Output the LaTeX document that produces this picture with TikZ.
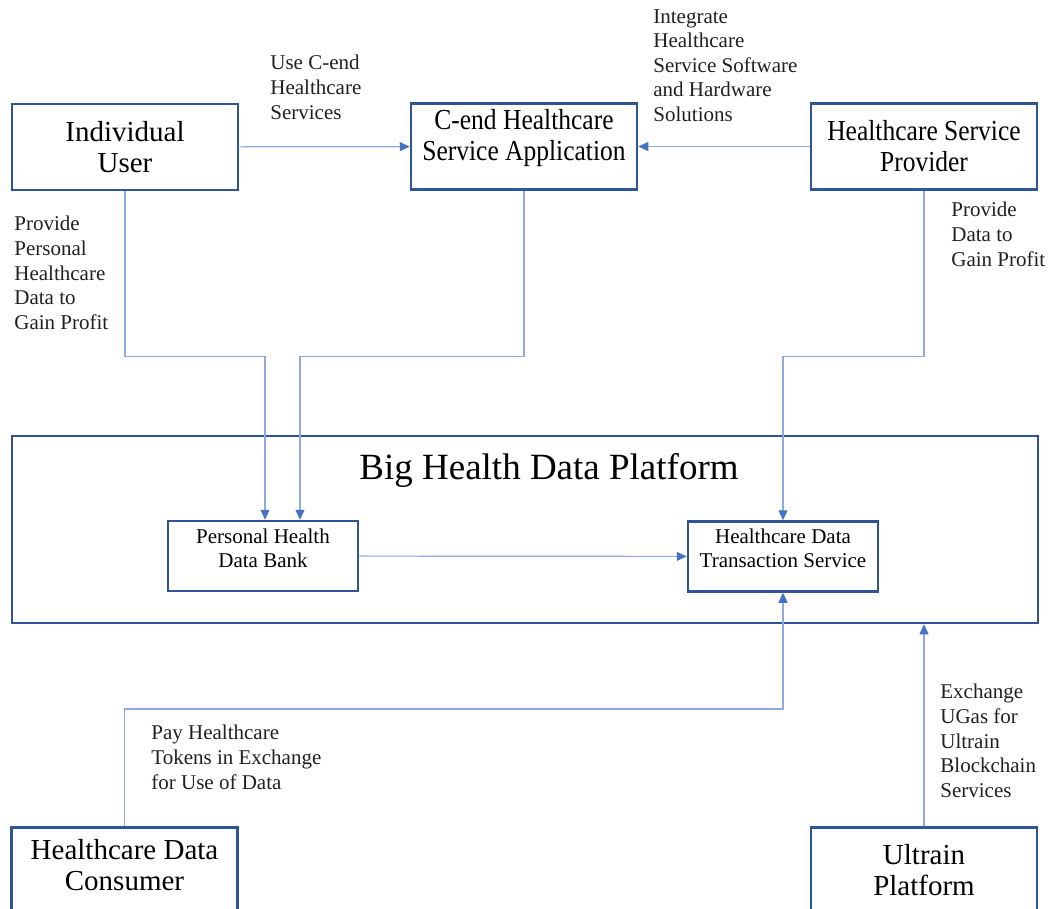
\documentclass[tikz,border=0pt]{standalone}
\usepackage{fontspec}
\setmainfont{Liberation Serif}
\newfontfamily\narrowserif{Liberation Serif}[FakeStretch=0.88]
\usetikzlibrary{arrows.meta}
\definecolor{boxblue}{HTML}{2F5597}
\definecolor{linkblue}{HTML}{8FAADC}
\definecolor{tipblue}{HTML}{4472C4}
\definecolor{notegray}{HTML}{231F20}

\begin{document}
\begin{tikzpicture}[x=0.5pt, y=-0.5pt,
main/.style = {draw=boxblue, line width=1.25pt, align=center, inner sep=0pt, minimum width=113pt, minimum height=43pt, font=\fontsize{14.5}{15.5}\selectfont},
sub/.style = {draw=boxblue, line width=1.25pt, align=center, inner sep=0pt, minimum width=95pt, minimum height=35pt, text depth=8pt, font=\fontsize{10.5}{12}\selectfont},
note/.style = {anchor=north west, align=left, inner sep=0pt, text=notegray, font=\fontsize{10.5}{12.3}\selectfont},
link/.style = {draw=linkblue, line width=0.6pt, -{Triangle[length=5pt, width=4.5pt, color=tipblue]}}]
\useasboundingbox (0,0) rectangle (1050,909);
\clip (0,0) rectangle (1050,909);
\node[main] (user) at (125,147) {Individual\\User};
\node[main, text depth=12pt, font=\narrowserif\fontsize{14.5}{15.5}\selectfont] (app) at (524,146.5) {C-end Healthcare\\Service Application};
\node[main, font=\narrowserif\fontsize{14.5}{15.5}\selectfont] (prov) at (924,146.5) {Healthcare Service\\Provider};
\node[main, minimum width=513pt, minimum height=93.5pt] (platform) at (525,529.5) {};
\node[font=\fontsize{18.5}{21}\selectfont] (title) at (549,470) {Big Health Data Platform};
\node[sub] (bank) at (263,556) {Personal Health\\Data Bank};
\node[sub] (tx) at (783,556.5) {Healthcare Data\\Transaction Service};
\node[main, minimum height=60pt, anchor=north] (cons) at (124.5,826) {};
\node[align=center, font=\fontsize{14.5}{15.5}\selectfont] (constext) at (124.5,865) {Healthcare Data\\Consumer};
\node[main, minimum height=60pt, anchor=north] (ultra) at (924,826) {};
\node[align=center, font=\fontsize{14.5}{15.5}\selectfont] (ultratext) at (924,870) {Ultrain\\Platform};
\node[note] (usenote) at (270,55) {Use C-end\\Healthcare\\Services};
\node[note] (intnote) at (653,9) {Integrate\\Healthcare\\Service Software\\and Hardware\\Solutions};
\node[note] (usernote) at (14,216) {Provide\\Personal\\Healthcare\\Data to\\Gain Profit};
\node[note] (provnote) at (951,202) {Provide\\Data to\\Gain Profit};
\node[note] (paynote) at (151,725) {Pay Healthcare\\Tokens in Exchange\\for Use of Data};
\node[note] (ugasnote) at (940,684) {Exchange\\UGas for\\Ultrain\\Blockchain\\Services};
\draw[link] (user) -- (app);
\draw[link] (prov) -- (app);
\draw[link] (user.south) -- ++(0,165) -| ([xshift=1pt]bank.north);
\draw[link] (app.south) -- ++(0,166) -| ([xshift=18.5pt]bank.north);
\draw[link] (prov.south) -- ++(0,166) -| (tx.north);
\draw[link] (bank) -- (tx);
\draw[link] (cons.north) -- ++(0,-117) -| (tx.south);
\draw[link] (ultra.north) -- (ultra.north |- platform.south);
\end{tikzpicture}
\end{document}
